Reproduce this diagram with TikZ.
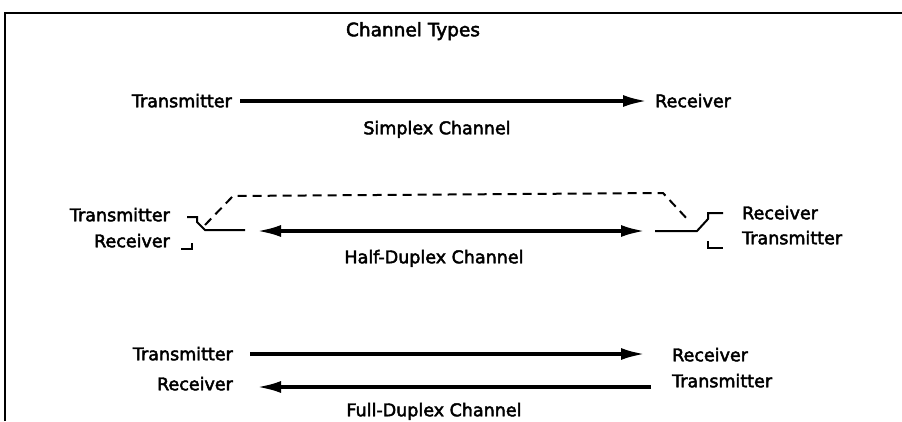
\documentclass[tikz,border=0pt]{standalone}
\usepackage{fontspec}
\setmainfont{DejaVu Sans}
\newcommand{\heavytext}[1]{\special{pdf:literal direct 2 Tr 0.45 w}#1\special{pdf:literal direct 0 Tr}}
\usetikzlibrary{arrows.meta}
\begin{document}
\begin{tikzpicture}[x=1pt,y=-1pt,
  lbl/.style={inner sep=0pt, font=\fontsize{17.5}{20}\selectfont, text height=12.5pt, text depth=0pt, execute at begin node=\special{pdf:literal direct 2 Tr 0.45 w}, execute at end node=\special{pdf:literal direct 0 Tr}},
  line/.style={line width=3.4pt},
  tip/.style={-{Latex[length=24pt,width=12pt]}},
  sw/.style={line width=2pt},
  dsh/.style={line width=2pt, dash pattern=on 9pt off 6pt}]
\useasboundingbox (0,0) rectangle (902,421);
% frame
\draw[line width=2.6pt] (5,421) -- (5,13) -- (902,13);
% title
\node[lbl, font=\fontsize{18.5}{21}\selectfont] (title) at (413,30) {Channel Types};
% simplex
\node[lbl, anchor=east] (stx) at (232,101) {Transmitter};
\node[lbl, anchor=west] (srx) at (655,101) {Receiver};
\node[lbl] (slab) at (437,128) {Simplex Channel};
\draw[line, tip] ([xshift=8pt]stx.east) -- ([xshift=-8pt]srx.west);
% half duplex
\node[lbl, anchor=east] (htx) at (170,215) {Transmitter};
\node[lbl, anchor=east] (hrx) at (170,241) {Receiver};
\node[lbl, anchor=west] (hrr) at (742,213) {Receiver};
\node[lbl, anchor=west] (hrt) at (742,238) {Transmitter};
\node[lbl] (hlab) at (434,257) {Half-Duplex Channel};
\coordinate (hl) at (257,231);
\coordinate (hr) at (645,231);
\draw[line, {Latex[length=24pt,width=12pt]}-{Latex[length=24pt,width=12pt]}] (hl) -- (hr);
% left switch
\draw[sw] (187,217) -- (197,217) -- (197,222) -- (205,230) -- (245,230);
\draw[sw] (181,249) -- (192,249) -- (192,243);
\draw[dsh] (205,225) -- (233,196) -- (663,193) -- (690,222);
% right switch
\draw[sw] (655,231) -- (697,231) -- (708,219) -- (708,213) -- (723,213);
\draw[sw] (708,241) -- (708,248) -- (723,248);
% full duplex
\node[lbl, anchor=east] (ftx) at (233,354) {Transmitter};
\node[lbl, anchor=east] (frx) at (233,384) {Receiver};
\node[lbl, anchor=west] (frr) at (672,355) {Receiver};
\node[lbl, anchor=west] (frt) at (672,381) {Transmitter};
\node[lbl] (flab) at (434,410) {Full-Duplex Channel};
\coordinate (fa1) at (250,354);
\coordinate (fa2) at (645,354);
\coordinate (fb1) at (651,387);
\coordinate (fb2) at (257,387);
\draw[line, tip] (fa1) -- (fa2);
\draw[line, tip] (fb1) -- (fb2);
\end{tikzpicture}
\end{document}
